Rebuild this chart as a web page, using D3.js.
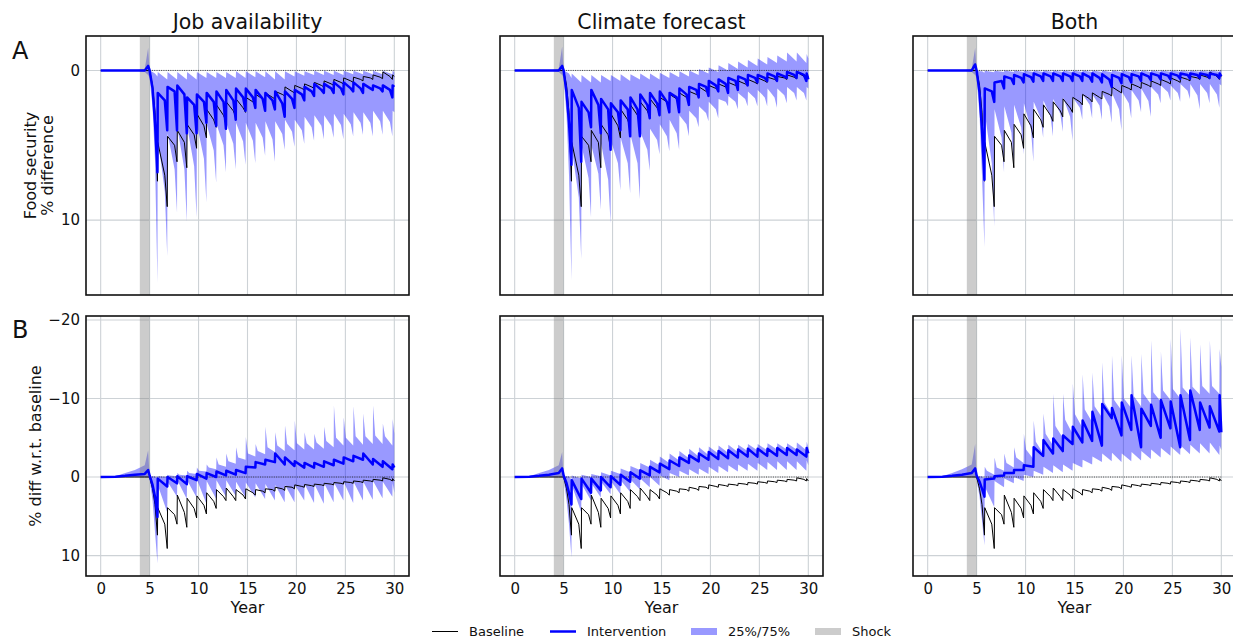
<!DOCTYPE html>
<html><head><meta charset="utf-8">
<script src="https://cdn.jsdelivr.net/npm/d3@7"></script>
<style>body{margin:0;background:#fff}svg{display:block}text{font-family:"DejaVu Sans",sans-serif;fill:#111}</style>
</head><body><svg id="c" width="1233" height="638"></svg>
<script>
// ---------- labels / ticks ----------
const columnTitles = ["Job availability", "Climate forecast", "Both"];
const rowLetters = ["A", "B"];
const rowYLabels = [["Food security", "% difference"], ["% diff w.r.t. baseline"]];
const xLabel = "Year";
const xTickValues = [0, 5, 10, 15, 20, 25, 30];
const yTickValuesA = [0, 10];
const yTickValuesB = [-20, -10, 0, 10];
const legendLabels = ["Baseline", "Intervention", "25%/75%", "Shock"];
const shockPeriod = [4, 5];
// ---------- time grid ----------
const headTimes = [0, 1.5, 2.5, 3.5, 4.5, 4.85, 5.0, 5.3, 5.55];
const harvestTimes = [5.8, 6.8, 7.8, 8.8, 9.8, 10.8, 11.8, 12.8, 13.8, 14.8, 15.8, 16.8, 17.8, 18.8, 19.8, 20.8, 21.8, 22.8, 23.8, 24.8, 25.8, 26.8, 27.8, 28.8, 29.8];

// ---------- Row A : food security % difference ----------
const A_base_head = [0,0,0,0,0,0,0,1.0,2.8];
const A_base_pre  = [7.4,9.1,6.1,6.5,5.2,4.5,3.8,3.4,3.1,2.8,2.3,2.1,1.9,1.7,1.5,1.3,1.2,1.1,1.0,0.9,0.8,0.7,0.6,0.55,0.6];
const A_base_post = [4.8,4.4,4.0,3.6,2.9,2.6,2.3,2.1,1.9,1.8,1.6,1.5,1.4,1.1,1.0,0.9,0.8,0.7,0.6,0.5,0.45,0.4,0.3,0.1,0.3];
const A_base_late = [7.0,5.0,4.8,4.3,3.7,3.3,3.0,2.7,2.5,2.1,1.9,1.8,1.6,1.4,1.2,1.1,1.0,0.9,0.8,0.7,0.6,0.5,0.45,0.4];
const A_base_end = 0.4;

const A_job_mid_head = [0,0,0,0,0,-0.3,0,1.2,3.5];
const A_job_mid_pre  = [6.8,4.0,4.0,4.2,4.2,3.5,3.7,3.9,3.3,2.7,2.5,2.7,2.6,3.1,2.5,2.0,1.7,1.5,1.5,1.6,1.4,1.5,1.3,1.4,1.8];
const A_job_mid_post = [1.5,1.1,1.0,1.8,1.6,1.5,1.4,1.3,1.2,1.2,1.3,1.5,1.4,1.4,1.3,1.1,0.9,0.9,0.8,0.8,0.8,0.9,1.0,1.0,1.0];
const A_job_mid_late = [2.0,1.4,1.6,2.3,2.1,2.1,2.1,2.0,1.8,1.8,1.9,2.0,2.2,1.9,1.6,1.4,1.3,1.2,1.2,1.2,1.2,1.2,1.2,1.3];
const A_job_mid_end = 1.1;
const A_job_q25_head = [0,0,0,0,-0.1,-1.5,0,0.1,0.2];
const A_job_q25_pre  = [0.4,0.6,0.6,0.6,0.6,0.5,0.5,0.5,0.5,0.5,0.45,0.45,0.6,0.6,0.4,0.35,0.3,0.3,0.3,0.3,0.25,0.25,0.25,0.25,0.25];
const A_job_q25_post = [0.1,0.1,0.1,0.1,0.1,0.1,0.1,0.1,0.05,0.05,0.05,0.05,0.05,0.05,0.05,0.05,0.02,0.02,0.02,0.02,0.02,0.02,0.02,0.02,0.02];
const A_job_q25_end = 0.1;
const A_job_q75_head = [0,0,0,0,0.1,0.3,0.5,2.5,6.0];
const A_job_q75_pre  = [14.2,12.4,9.5,10.1,9.8,8.8,7.5,6.8,6.6,6.3,6.2,5.7,6.1,5.3,5.1,4.9,4.7,4.6,4.5,4.6,4.4,4.3,4.4,4.3,4.4];
const A_job_q75_post = [4.5,4.2,3.8,3.7,3.6,3.6,3.6,3.5,3.5,3.5,3.5,3.4,3.4,3.3,3.3,3.1,3.0,3.0,2.9,2.9,2.8,2.8,2.7,2.7,2.7];
const A_job_q75_late = [8.1,6.6,6.6,6.4,5.9,5.35,5.0,4.9,4.75,4.7,4.5,4.6,4.25,4.1,4.0,3.8,3.7,3.7,3.65,3.6,3.5,3.5,3.4,3.45];
const A_job_q75_end = 2.8;

const A_cli_mid_head = [0,0,0,0,0,-0.3,0,1.5,3.5];
const A_cli_mid_pre  = [6.3,6.1,3.8,4.2,5.3,4.0,4.4,4.4,3.2,3.0,2.8,2.8,2.3,1.8,1.7,1.4,1.5,1.3,1.0,0.8,0.7,0.7,0.5,0.5,0.7];
const A_cli_mid_post = [1.3,2.1,1.3,1.9,2.2,2.0,1.8,1.6,1.5,1.4,1.5,1.2,1.1,0.9,0.7,0.6,0.5,0.4,0.3,0.3,0.2,0.2,0.1,0.1,0.2];
const A_cli_mid_late = [2.5,2.8,2.3,2.6,2.8,2.6,2.6,2.3,2.2,2.1,1.8,1.6,1.3,1.1,1.0,0.9,0.7,0.6,0.5,0.5,0.4,0.4,0.3,0.3];
const A_cli_mid_end = 0.6;
const A_cli_q25_head = [0,0,0,0,-0.1,-1.6,0,0.1,0.2];
const A_cli_q25_pre  = [0.5,0.8,0.8,0.8,0.7,0.7,0.7,0.6,0.6,0.6,0.5,0.45,0.4,0.3,0.2,0.1,0.0,-0.1,-0.2,-0.3,-0.4,-0.5,-0.6,-0.6,-0.5];
const A_cli_q25_post = [0.2,0.3,0.3,0.3,0.3,0.25,0.25,0.2,0.2,0.15,0.1,0.05,0.0,-0.1,-0.2,-0.35,-0.5,-0.6,-0.7,-0.8,-0.9,-1.0,-1.2,-1.2,-1.1];
const A_cli_q25_end = -0.8;
const A_cli_q75_head = [0,0,0,0,0.1,0.3,0.5,3.0,7.0];
const A_cli_q75_pre  = [14.0,12.6,9.8,9.3,10.2,8.0,8.2,8.6,6.7,5.6,5.4,5.3,4.4,3.8,3.4,3.2,2.4,2.6,2.4,2.4,2.4,2.5,2.2,2.0,2.0];
const A_cli_q75_post = [5.2,5.0,5.0,4.9,4.7,4.5,4.3,4.1,3.9,3.6,3.3,3.0,2.7,2.4,2.1,1.9,1.7,1.5,1.4,1.3,1.2,1.2,1.1,1.1,1.1];
const A_cli_q75_late = [8.5,7.2,6.9,7.3,6.2,6.2,6.2,5.3,4.65,4.4,4.2,3.6,3.2,2.85,2.6,2.1,2.1,1.9,1.85,1.8,1.8,1.65,1.5,1.5];
const A_cli_q75_end = 1.2;

const A_both_mid_head = [0,0,0,0,0,-0.4,0,1.5,4.0];
const A_both_mid_pre  = [7.3,2.1,1.2,0.9,0.8,0.75,0.7,0.7,0.7,0.7,0.7,0.75,0.8,1.1,0.85,0.8,0.7,0.65,0.6,0.6,0.55,0.55,0.5,0.5,0.5];
const A_both_mid_post = [1.2,0.8,0.4,0.3,0.25,0.2,0.2,0.2,0.2,0.2,0.2,0.2,0.25,0.3,0.25,0.25,0.2,0.2,0.2,0.2,0.2,0.2,0.2,0.2,0.2];
const A_both_mid_late = [1.4,0.7,0.55,0.5,0.45,0.4,0.4,0.4,0.4,0.4,0.45,0.5,0.6,0.5,0.45,0.4,0.4,0.35,0.35,0.35,0.3,0.3,0.3,0.3];
const A_both_mid_end = 0.4;
const A_both_q25_head = [0,0,0,0,-0.1,-1.5,0,0.05,0.05];
const A_both_q25_pre  = [0.15,0.12,0.1,0.1,0.1,0.1,0.1,0.1,0.1,0.1,0.1,0.1,0.1,0.12,0.1,0.1,0.1,0.1,0.08,0.08,0.08,0.08,0.08,0.08,0.08];
const A_both_q25_post = [0.02,0.02,0.0,0.0,0.0,0.0,0.0,0.0,0.0,0.0,0.0,0.0,0.0,0.0,0.0,0.0,0.0,0.0,0.0,0.0,0.0,0.0,0.0,0.0,0.0];
const A_both_q25_end = 0.0;
const A_both_q75_head = [0,0,0,0,0.1,0.3,0.5,3.0,7.0];
const A_both_q75_pre  = [11.8,10.4,6.8,6.3,5.6,6.1,4.5,4.4,4.1,4.7,3.3,3.2,3.3,3.5,4.0,3.2,2.8,3.1,2.2,2.0,2.1,1.9,2.6,2.2,2.5];
const A_both_q75_post = [2.8,2.6,2.4,2.3,2.2,2.1,2.0,1.9,1.8,1.8,1.6,1.6,1.5,1.5,1.4,1.3,1.2,1.1,1.0,1.0,0.9,0.9,0.9,0.9,0.9];
const A_both_q75_late = [6.2,4.5,4.15,3.8,3.95,3.2,3.1,2.9,3.1,2.5,2.3,2.35,2.4,2.6,2.2,2.0,2.05,1.6,1.45,1.5,1.35,1.65,1.5,1.6];
const A_both_q75_end = 1.0;

// ---------- Row B : % diff w.r.t. baseline ----------
const B_base_head = [0,0,0,0,0,0,0,1.5,3.5];
const B_base_pre  = [7.4,9.1,6.0,6.4,5.2,4.7,4.0,3.0,3.0,2.8,2.3,2.0,1.8,1.7,1.5,1.3,1.2,1.1,1.0,0.9,0.8,0.7,0.6,0.5,0.5];
const B_base_post = [3.9,3.9,2.3,2.7,2.4,2.0,1.6,1.4,1.6,1.5,1.6,1.5,1.3,1.2,1.0,0.95,0.9,0.8,0.7,0.6,0.5,0.4,0.3,0.1,0.2];
const B_base_late = [6.0,4.8,4.5,4.0,3.6,3.1,2.5,2.5,2.3,2.0,1.8,1.6,1.5,1.3,1.2,1.1,1.0,0.9,0.8,0.7,0.6,0.5,0.4,0.3];
const B_base_end = 0.5;

const B_job_mid_head = [0,-0.05,-0.15,-0.3,-0.4,-0.9,-0.2,1.0,2.5];
const B_job_mid_pre  = [5.1,1.2,0.8,0.9,0.4,0.2,0.0,-0.2,-0.3,-0.5,-1.2,-1.6,-1.9,-1.6,-1.4,-1.2,-1.2,-1.3,-1.5,-1.7,-2.0,-2.2,-1.6,-1.3,-1.0];
const B_job_mid_post = [0.2,0.0,-0.1,-0.1,-0.4,-0.5,-0.7,-0.8,-0.9,-1.3,-1.9,-2.2,-3.0,-2.5,-2.0,-1.8,-1.8,-2.0,-2.2,-2.5,-2.7,-3.0,-2.3,-2.0,-1.6];
const B_job_mid_end = -1.2;
const B_job_q25_head = [0,-0.1,-0.5,-0.9,-1.5,-3.4,0,-0.1,-0.1];
const B_job_q25_pre  = [0.2,0.0,-0.1,-0.2,-0.4,-0.7,-1.0,-1.3,-1.7,-2.2,-2.6,-2.9,-3.2,-3.3,-3.4,-3.5,-3.5,-3.6,-3.8,-4.0,-4.0,-4.1,-4.2,-4.2,-4.0];
const B_job_q25_post = [-0.1,-0.3,-0.5,-0.8,-1.2,-1.6,-2.5,-3.0,-3.8,-5.1,-4.2,-6.4,-5.7,-6.6,-7.2,-5.7,-5.5,-6.4,-9.1,-7.6,-9.0,-8.1,-9.1,-6.8,-7.4];
const B_job_q25_early = [-0.1,-0.2,-0.3,-0.5,-0.8,-1.2,-1.6,-2.0,-2.5,-3.0,-3.3,-3.8,-4.0,-4.2,-4.3,-4.3,-4.4,-4.6,-5.0,-5.0,-5.2,-5.2,-5.3,-5.2];
const B_job_q25_end = -5.5;
const B_job_q75_head = [0,0,0,0,0,0,0.3,3.0,7.0];
const B_job_q75_pre  = [11.0,4.5,2.5,2.8,2.6,3.4,2.8,2.5,2.4,2.6,2.6,2.8,3.0,3.2,3.2,3.0,3.3,3.4,3.2,3.0,3.3,3.0,2.9,2.7,2.5];
const B_job_q75_post = [1.0,0.6,0.4,0.4,0.3,0.5,0.4,0.4,0.6,0.7,0.8,0.9,1.0,1.0,1.0,0.9,0.9,0.8,0.7,0.6,0.6,0.6,0.5,0.6,0.8];
const B_job_q75_end = 2.0;

const B_cli_mid_head = [0,-0.05,-0.15,-0.3,-0.5,-1.1,-0.2,0.8,2.0];
const B_cli_mid_pre  = [3.5,2.8,2.0,1.7,1.3,1.0,0.6,0.2,-0.2,-0.6,-1.0,-1.4,-1.8,-2.0,-2.2,-2.3,-2.4,-2.5,-2.6,-2.6,-2.7,-2.7,-2.8,-2.8,-2.6];
const B_cli_mid_post = [0.4,0.2,0.2,0.0,-0.1,-0.3,-0.6,-0.85,-1.3,-1.7,-2.1,-2.5,-2.75,-3.0,-3.2,-3.3,-3.4,-3.5,-3.6,-3.6,-3.6,-3.7,-3.7,-3.5,-3.7];
const B_cli_mid_end = -3.0;
const B_cli_q25_head = [0,-0.1,-0.5,-0.9,-1.5,-3.2,0,-0.1,-0.1];
const B_cli_q25_pre  = [0.3,0.2,0.0,-0.1,-0.2,-0.4,-0.6,-0.9,-1.2,-1.5,-1.8,-2.1,-2.4,-2.6,-2.8,-3.0,-3.1,-3.2,-3.3,-3.4,-3.4,-3.5,-3.5,-3.5,-3.4];
const B_cli_q25_post = [-0.2,-0.3,-0.4,-0.6,-0.8,-1.1,-1.4,-1.8,-2.2,-2.6,-3.0,-3.3,-3.6,-3.8,-3.9,-4.0,-4.1,-4.1,-4.2,-4.2,-4.3,-4.3,-4.3,-4.4,-4.5];
const B_cli_q25_end = -3.8;
const B_cli_q75_head = [0,0,0,0,0,0,0.3,3.0,6.0];
const B_cli_q75_pre  = [10.2,4.5,3.0,2.6,2.2,2.2,1.9,1.6,1.3,1.1,0.4,0.0,-0.2,-0.3,-0.4,-0.5,-0.6,-0.7,-0.8,-0.8,-0.9,-0.9,-0.9,-0.9,-0.8];
const B_cli_q75_post = [1.0,0.9,0.8,0.6,0.5,0.4,0.3,0.2,0.0,-0.2,-0.5,-0.8,-1.0,-1.1,-1.3,-1.4,-1.5,-1.6,-1.7,-1.8,-1.9,-2.0,-2.0,-2.0,-2.1];
const B_cli_q75_end = -1.5;

const B_both_mid_head = [0,-0.05,-0.15,-0.3,-0.5,-1.1,-0.2,0.6,1.5];
const B_both_mid_pre  = [2.5,0.2,-0.2,-0.5,-0.9,-1.3,-2.7,-3.0,-3.3,-4.2,-4.4,-4.6,-4.0,-7.5,-5.3,-6.0,-3.8,-6.5,-5.0,-6.2,-3.8,-4.7,-6.0,-6.3,-5.8];
const B_both_mid_post = [0.3,-0.1,-0.5,-0.9,-1.5,-3.8,-4.7,-4.9,-5.3,-6.4,-7.2,-8.3,-9.3,-8.8,-9.5,-10.4,-8.7,-9.2,-9.8,-9.6,-10.4,-11.0,-9.5,-9.0,-10.4];
const B_both_mid_end = -5.7;
const B_both_q25_head = [0,-0.1,-0.5,-1.0,-1.6,-4.2,0,-0.1,-0.1];
const B_both_q25_pre  = [0.2,-0.3,-0.8,-1.2,-1.8,-2.3,-3.0,-4.0,-5.0,-5.5,-6.3,-7.0,-7.6,-8.0,-8.5,-8.8,-9.0,-9.3,-9.6,-9.8,-10.0,-10.3,-10.5,-10.6,-10.6];
const B_both_q25_post = [-1.3,-2.5,-3.0,-3.8,-5.5,-7.2,-8.1,-10.6,-10.6,-11.9,-13.1,-13.3,-14.6,-15.5,-15.5,-15.5,-15.7,-17.4,-16.0,-17.6,-18.9,-17.8,-16.9,-17.4,-16.3];
const B_both_q25_early = [-0.8,-1.2,-1.8,-2.5,-3.5,-4.5,-5.5,-6.5,-7.3,-8.0,-8.6,-9.0,-9.5,-9.8,-10.0,-10.3,-10.6,-10.8,-11.0,-11.2,-11.4,-11.5,-11.6,-11.6];
const B_both_q25_end = -14.0;
const B_both_q75_head = [0,0,0,0,0,0,0.3,2.5,5.5];
const B_both_q75_pre  = [8.7,3.8,1.3,0.8,0.5,0.0,-0.3,-0.5,-0.6,-0.8,-1.2,-1.6,-1.9,-2.0,-1.9,-2.0,-2.1,-2.3,-2.5,-2.7,-2.8,-2.9,-3.0,-3.0,-2.8];
const B_both_q75_post = [1.2,0.5,0.2,0.0,-0.3,-0.8,-1.3,-1.5,-1.6,-1.8,-2.2,-2.6,-3.0,-3.1,-3.0,-3.2,-3.3,-3.5,-3.7,-3.9,-4.0,-4.1,-4.3,-4.4,-4.0];
const B_both_q75_end = -3.4;

// ---------- build point lists ----------
function buildSeries(head, pre, post, end, early, late) {
  const pts = headTimes.map((t, i) => [t, head[i]]);
  harvestTimes.forEach((h, i) => {
    pts.push([h, pre[i]]);
    pts.push([h + 0.03, post[i]]);
    if (i < harvestTimes.length - 1) {
      if (early) pts.push([h + 0.25, early[i]]);
      if (late) pts.push([h + 0.75, late[i]]);
    }
  });
  pts.push([30, end]);
  return pts;
}
const baseA = buildSeries(A_base_head, A_base_pre, A_base_post, A_base_end, null, A_base_late);
const baseB = buildSeries(B_base_head, B_base_pre, B_base_post, B_base_end, null, B_base_late);
const panels = [
  [
    {base: baseA,
     mid: buildSeries(A_job_mid_head, A_job_mid_pre, A_job_mid_post, A_job_mid_end, null, A_job_mid_late),
     q25: buildSeries(A_job_q25_head, A_job_q25_pre, A_job_q25_post, A_job_q25_end),
     q75: buildSeries(A_job_q75_head, A_job_q75_pre, A_job_q75_post, A_job_q75_end, null, A_job_q75_late)},
    {base: baseA,
     mid: buildSeries(A_cli_mid_head, A_cli_mid_pre, A_cli_mid_post, A_cli_mid_end, null, A_cli_mid_late),
     q25: buildSeries(A_cli_q25_head, A_cli_q25_pre, A_cli_q25_post, A_cli_q25_end),
     q75: buildSeries(A_cli_q75_head, A_cli_q75_pre, A_cli_q75_post, A_cli_q75_end, null, A_cli_q75_late)},
    {base: baseA,
     mid: buildSeries(A_both_mid_head, A_both_mid_pre, A_both_mid_post, A_both_mid_end, null, A_both_mid_late),
     q25: buildSeries(A_both_q25_head, A_both_q25_pre, A_both_q25_post, A_both_q25_end),
     q75: buildSeries(A_both_q75_head, A_both_q75_pre, A_both_q75_post, A_both_q75_end, null, A_both_q75_late)}
  ],
  [
    {base: baseB,
     mid: buildSeries(B_job_mid_head, B_job_mid_pre, B_job_mid_post, B_job_mid_end),
     q25: buildSeries(B_job_q25_head, B_job_q25_pre, B_job_q25_post, B_job_q25_end, B_job_q25_early),
     q75: buildSeries(B_job_q75_head, B_job_q75_pre, B_job_q75_post, B_job_q75_end)},
    {base: baseB,
     mid: buildSeries(B_cli_mid_head, B_cli_mid_pre, B_cli_mid_post, B_cli_mid_end),
     q25: buildSeries(B_cli_q25_head, B_cli_q25_pre, B_cli_q25_post, B_cli_q25_end),
     q75: buildSeries(B_cli_q75_head, B_cli_q75_pre, B_cli_q75_post, B_cli_q75_end)},
    {base: baseB,
     mid: buildSeries(B_both_mid_head, B_both_mid_pre, B_both_mid_post, B_both_mid_end),
     q25: buildSeries(B_both_q25_head, B_both_q25_pre, B_both_q25_post, B_both_q25_end, B_both_q25_early),
     q75: buildSeries(B_both_q75_head, B_both_q75_pre, B_both_q75_post, B_both_q75_end)}
  ]
];

// ---------- layout ----------
const svg = d3.select("#c");
const colX = [[86, 409], [500, 823], [913, 1236]];
const rowY = [[36, 295], [316, 576]];
const yDomains = [[-2.3, 15], [-20.5, 12.6]];
const yTicksByRow = [yTickValuesA, yTickValuesB];
const gridColor = "#cdd2d6";
const fmt = d3.format("d");

panels.forEach((row, r) => {
  row.forEach((p, c) => {
    const x = d3.scaleLinear().domain([-1.5, 31.5]).range(colX[c]);
    const y = d3.scaleLinear().domain(yDomains[r]).range(rowY[r]);
    const [x0, x1] = colX[c], [y0, y1] = rowY[r];
    const id = "clip" + r + c;
    svg.append("clipPath").attr("id", id).append("rect")
      .attr("x", x0).attr("y", y0).attr("width", x1 - x0).attr("height", y1 - y0);
    const g = svg.append("g").attr("clip-path", `url(#${id})`);
    // grid
    g.selectAll(".gx").data(xTickValues).join("line")
      .attr("x1", d => x(d)).attr("x2", d => x(d)).attr("y1", y0).attr("y2", y1)
      .attr("stroke", gridColor).attr("stroke-width", 1.1);
    g.selectAll(".gy").data(yTicksByRow[r]).join("line")
      .attr("y1", d => y(d)).attr("y2", d => y(d)).attr("x1", x0).attr("x2", x1)
      .attr("stroke", gridColor).attr("stroke-width", 1.1);
    const line = d3.line().x(d => x(d[0])).y(d => y(d[1]));
    // band
    const poly = p.q25.concat(p.q75.slice().reverse());
    g.append("path").attr("d", line(poly) + "Z")
      .attr("fill", "#0000ff").attr("fill-opacity", 0.4).attr("stroke", "none");
    // shock
    g.append("rect").attr("x", x(shockPeriod[0])).attr("width", x(shockPeriod[1]) - x(shockPeriod[0]))
      .attr("y", y0).attr("height", y1 - y0).attr("fill", "#808080").attr("fill-opacity", 0.4);
    // zero dotted
    g.append("line").attr("x1", x(5)).attr("x2", x(30)).attr("y1", y(0)).attr("y2", y(0))
      .attr("stroke", "#333").attr("stroke-width", 0.9).attr("stroke-dasharray", "1,1.3");
    // baseline
    g.append("path").attr("d", line(p.base)).attr("fill", "none")
      .attr("stroke", "#000").attr("stroke-width", 1).attr("stroke-linejoin", "round");
    // intervention
    g.append("path").attr("d", line(p.mid)).attr("fill", "none")
      .attr("stroke", "#0000ff").attr("stroke-width", 2.5).attr("stroke-linejoin", "round");
    // frame
    svg.append("rect").attr("x", x0).attr("y", y0).attr("width", x1 - x0).attr("height", y1 - y0)
      .attr("fill", "none").attr("stroke", "#111").attr("stroke-width", 1.6);
    // axes labels
    if (r === 1) {
      const ax = svg.append("g").attr("transform", `translate(0,${y1})`)
        .call(d3.axisBottom(x).tickValues(xTickValues).tickSize(0).tickPadding(7).tickFormat(fmt));
      ax.select(".domain").remove();
      ax.selectAll("text").style("font-size", "15px").style("font-family", "DejaVu Sans").attr("fill", "#111");
      svg.append("text").attr("x", (x0 + x1) / 2).attr("y", 613).attr("text-anchor", "middle")
        .style("font-size", "16px").text(xLabel);
    }
    if (c === 0) {
      const ay = svg.append("g").attr("transform", `translate(${x0},0)`)
        .call(d3.axisLeft(y).tickValues(yTicksByRow[r]).tickSize(0).tickPadding(6).tickFormat(fmt));
      ay.select(".domain").remove();
      ay.selectAll("text").style("font-size", "15px").style("font-family", "DejaVu Sans").attr("fill", "#111");
    }
    if (r === 0) {
      svg.append("text").attr("x", (x0 + x1) / 2).attr("y", 29).attr("text-anchor", "middle")
        .style("font-size", "20.5px").text(columnTitles[c]);
    }
  });
});

// row letters & y labels
svg.append("text").attr("x", 12).attr("y", 59).style("font-size", "24px").text(rowLetters[0]);
svg.append("text").attr("x", 12).attr("y", 338).style("font-size", "24px").text(rowLetters[1]);
const midA = (rowY[0][0] + rowY[0][1]) / 2, midB = (rowY[1][0] + rowY[1][1]) / 2;
[[36, rowYLabels[0][0]], [53, rowYLabels[0][1]]].forEach(([bx, t]) => {
  svg.append("text").attr("transform", `translate(${bx},${midA}) rotate(-90)`)
    .attr("text-anchor", "middle").style("font-size", "16px").text(t);
});
svg.append("text").attr("transform", `translate(41,${midB}) rotate(-90)`)
  .attr("text-anchor", "middle").style("font-size", "16px").text(rowYLabels[1][0]);

// legend
const legY = 631.5;
const legItems = [
  {x: 432, type: "line", color: "#000", w: 1},
  {x: 550, type: "line", color: "#0000ff", w: 2.5},
  {x: 691, type: "rect", color: "#0000ff"},
  {x: 815, type: "rect", color: "#808080"}
];
legItems.forEach((it, i) => {
  if (it.type === "line") {
    svg.append("line").attr("x1", it.x).attr("x2", it.x + 26).attr("y1", legY).attr("y2", legY)
      .attr("stroke", it.color).attr("stroke-width", it.w);
  } else {
    svg.append("rect").attr("x", it.x).attr("y", legY - 3.5).attr("width", 26).attr("height", 7)
      .attr("fill", it.color).attr("fill-opacity", 0.4);
  }
  svg.append("text").attr("x", it.x + 37).attr("y", legY).attr("dy", "0.36em")
    .style("font-size", "13px").text(legendLabels[i]);
});
</script></body></html>
